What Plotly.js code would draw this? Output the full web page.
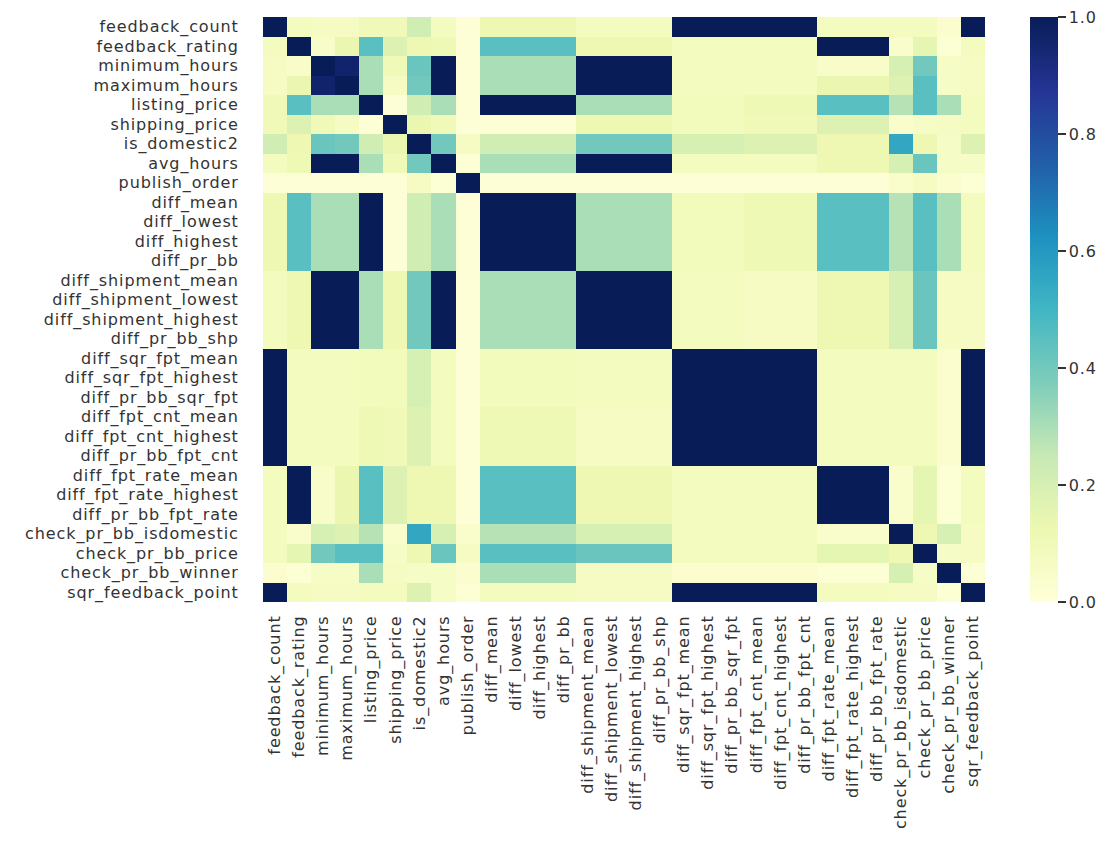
<!DOCTYPE html>
<html>
<head>
<meta charset="utf-8">
<script src="https://cdn.plot.ly/plotly-3.0.1.min.js"></script>
<style>
  html, body { margin: 0; padding: 0; background: #ffffff; }
  #chart { width: 1120px; height: 862px; }
  #chart .xtick text, #chart .ytick text, #chart .cbaxis text { letter-spacing: 0.9px; }
</style>
</head>
<body>
<div id="chart"></div>
<script>
// Feature names (same order on both axes)
const labels = [
  "feedback_count", "feedback_rating", "minimum_hours", "maximum_hours",
  "listing_price", "shipping_price", "is_domestic2", "avg_hours",
  "publish_order", "diff_mean", "diff_lowest", "diff_highest", "diff_pr_bb",
  "diff_shipment_mean", "diff_shipment_lowest", "diff_shipment_highest",
  "diff_pr_bb_shp", "diff_sqr_fpt_mean", "diff_sqr_fpt_highest",
  "diff_pr_bb_sqr_fpt", "diff_fpt_cnt_mean", "diff_fpt_cnt_highest",
  "diff_pr_bb_fpt_cnt", "diff_fpt_rate_mean", "diff_fpt_rate_highest",
  "diff_pr_bb_fpt_rate", "check_pr_bb_isdomestic", "check_pr_bb_price",
  "check_pr_bb_winner", "sqr_feedback_point"
];

// Correlation matrix (one row per feature)
const corr = [
  [1.00,0.08,0.07,0.07,0.10,0.10,0.22,0.08,0.01,0.12,0.12,0.12,0.12,0.08,0.08,0.08,0.08,1.00,1.00,1.00,1.00,1.00,1.00,0.08,0.08,0.08,0.08,0.08,0.03,1.00],
  [0.08,1.00,0.05,0.13,0.45,0.18,0.12,0.11,0.01,0.45,0.45,0.45,0.45,0.12,0.12,0.12,0.12,0.08,0.08,0.08,0.08,0.08,0.08,1.00,1.00,1.00,0.04,0.15,0.02,0.08],
  [0.07,0.05,1.00,0.96,0.30,0.10,0.42,1.00,0.01,0.30,0.30,0.30,0.30,1.00,1.00,1.00,1.00,0.08,0.08,0.08,0.08,0.08,0.08,0.05,0.05,0.05,0.20,0.40,0.06,0.07],
  [0.07,0.13,0.96,1.00,0.30,0.07,0.40,1.00,0.01,0.30,0.30,0.30,0.30,1.00,1.00,1.00,1.00,0.08,0.08,0.08,0.08,0.08,0.08,0.13,0.13,0.13,0.18,0.45,0.06,0.07],
  [0.10,0.45,0.30,0.30,1.00,0.01,0.22,0.30,0.01,1.00,1.00,1.00,1.00,0.30,0.30,0.30,0.30,0.09,0.09,0.09,0.11,0.11,0.11,0.45,0.45,0.45,0.28,0.45,0.30,0.08],
  [0.10,0.18,0.10,0.07,0.01,1.00,0.13,0.10,0.01,0.01,0.01,0.01,0.01,0.12,0.12,0.12,0.12,0.09,0.09,0.09,0.10,0.10,0.10,0.18,0.18,0.18,0.04,0.06,0.07,0.08],
  [0.22,0.12,0.42,0.40,0.22,0.13,1.00,0.40,0.07,0.22,0.22,0.22,0.22,0.40,0.40,0.40,0.40,0.20,0.20,0.20,0.18,0.18,0.18,0.12,0.12,0.12,0.55,0.12,0.06,0.18],
  [0.08,0.11,1.00,1.00,0.30,0.10,0.40,1.00,0.02,0.30,0.30,0.30,0.30,1.00,1.00,1.00,1.00,0.08,0.08,0.08,0.08,0.08,0.08,0.12,0.12,0.12,0.20,0.42,0.06,0.06],
  [0.01,0.01,0.01,0.01,0.01,0.01,0.07,0.02,1.00,0.01,0.01,0.01,0.01,0.01,0.01,0.01,0.01,0.01,0.01,0.01,0.01,0.01,0.01,0.01,0.01,0.01,0.04,0.07,0.03,0.02],
  [0.12,0.45,0.30,0.30,1.00,0.01,0.22,0.30,0.01,1.00,1.00,1.00,1.00,0.30,0.30,0.30,0.30,0.09,0.09,0.09,0.11,0.11,0.11,0.45,0.45,0.45,0.28,0.45,0.30,0.08],
  [0.12,0.45,0.30,0.30,1.00,0.01,0.22,0.30,0.01,1.00,1.00,1.00,1.00,0.30,0.30,0.30,0.30,0.09,0.09,0.09,0.11,0.11,0.11,0.45,0.45,0.45,0.28,0.45,0.30,0.08],
  [0.12,0.45,0.30,0.30,1.00,0.01,0.22,0.30,0.01,1.00,1.00,1.00,1.00,0.30,0.30,0.30,0.30,0.09,0.09,0.09,0.11,0.11,0.11,0.45,0.45,0.45,0.28,0.45,0.30,0.08],
  [0.12,0.45,0.30,0.30,1.00,0.01,0.22,0.30,0.01,1.00,1.00,1.00,1.00,0.30,0.30,0.30,0.30,0.09,0.09,0.09,0.11,0.11,0.11,0.45,0.45,0.45,0.28,0.45,0.30,0.08],
  [0.08,0.12,1.00,1.00,0.30,0.12,0.40,1.00,0.01,0.30,0.30,0.30,0.30,1.00,1.00,1.00,1.00,0.08,0.08,0.08,0.07,0.07,0.07,0.12,0.12,0.12,0.20,0.42,0.07,0.07],
  [0.08,0.12,1.00,1.00,0.30,0.12,0.40,1.00,0.01,0.30,0.30,0.30,0.30,1.00,1.00,1.00,1.00,0.08,0.08,0.08,0.07,0.07,0.07,0.12,0.12,0.12,0.20,0.42,0.07,0.07],
  [0.08,0.12,1.00,1.00,0.30,0.12,0.40,1.00,0.01,0.30,0.30,0.30,0.30,1.00,1.00,1.00,1.00,0.08,0.08,0.08,0.07,0.07,0.07,0.12,0.12,0.12,0.20,0.42,0.07,0.07],
  [0.08,0.12,1.00,1.00,0.30,0.12,0.40,1.00,0.01,0.30,0.30,0.30,0.30,1.00,1.00,1.00,1.00,0.08,0.08,0.08,0.07,0.07,0.07,0.12,0.12,0.12,0.20,0.42,0.07,0.07],
  [1.00,0.08,0.08,0.08,0.09,0.09,0.20,0.08,0.01,0.09,0.09,0.09,0.09,0.08,0.08,0.08,0.08,1.00,1.00,1.00,1.00,1.00,1.00,0.08,0.08,0.08,0.08,0.08,0.03,1.00],
  [1.00,0.08,0.08,0.08,0.09,0.09,0.20,0.08,0.01,0.09,0.09,0.09,0.09,0.08,0.08,0.08,0.08,1.00,1.00,1.00,1.00,1.00,1.00,0.08,0.08,0.08,0.08,0.08,0.03,1.00],
  [1.00,0.08,0.08,0.08,0.09,0.09,0.20,0.08,0.01,0.09,0.09,0.09,0.09,0.08,0.08,0.08,0.08,1.00,1.00,1.00,1.00,1.00,1.00,0.08,0.08,0.08,0.08,0.08,0.03,1.00],
  [1.00,0.08,0.08,0.08,0.11,0.10,0.18,0.08,0.01,0.11,0.11,0.11,0.11,0.07,0.07,0.07,0.07,1.00,1.00,1.00,1.00,1.00,1.00,0.08,0.08,0.08,0.08,0.08,0.03,1.00],
  [1.00,0.08,0.08,0.08,0.11,0.10,0.18,0.08,0.01,0.11,0.11,0.11,0.11,0.07,0.07,0.07,0.07,1.00,1.00,1.00,1.00,1.00,1.00,0.08,0.08,0.08,0.08,0.08,0.03,1.00],
  [1.00,0.08,0.08,0.08,0.11,0.10,0.18,0.08,0.01,0.11,0.11,0.11,0.11,0.07,0.07,0.07,0.07,1.00,1.00,1.00,1.00,1.00,1.00,0.08,0.08,0.08,0.08,0.08,0.03,1.00],
  [0.08,1.00,0.05,0.13,0.45,0.18,0.12,0.12,0.01,0.45,0.45,0.45,0.45,0.12,0.12,0.12,0.12,0.08,0.08,0.08,0.08,0.08,0.08,1.00,1.00,1.00,0.04,0.15,0.02,0.08],
  [0.08,1.00,0.05,0.13,0.45,0.18,0.12,0.12,0.01,0.45,0.45,0.45,0.45,0.12,0.12,0.12,0.12,0.08,0.08,0.08,0.08,0.08,0.08,1.00,1.00,1.00,0.04,0.15,0.02,0.08],
  [0.08,1.00,0.05,0.13,0.45,0.18,0.12,0.12,0.01,0.45,0.45,0.45,0.45,0.12,0.12,0.12,0.12,0.08,0.08,0.08,0.08,0.08,0.08,1.00,1.00,1.00,0.04,0.15,0.02,0.08],
  [0.08,0.04,0.20,0.18,0.28,0.04,0.55,0.20,0.04,0.28,0.28,0.28,0.28,0.20,0.20,0.20,0.20,0.08,0.08,0.08,0.08,0.08,0.08,0.04,0.04,0.04,1.00,0.12,0.20,0.07],
  [0.08,0.15,0.40,0.45,0.45,0.06,0.12,0.42,0.07,0.45,0.45,0.45,0.45,0.42,0.42,0.42,0.42,0.08,0.08,0.08,0.08,0.08,0.08,0.15,0.15,0.15,0.12,1.00,0.06,0.07],
  [0.03,0.02,0.06,0.06,0.30,0.07,0.06,0.06,0.03,0.30,0.30,0.30,0.30,0.07,0.07,0.07,0.07,0.03,0.03,0.03,0.03,0.03,0.03,0.02,0.02,0.02,0.20,0.06,1.00,0.02],
  [1.00,0.08,0.07,0.07,0.08,0.08,0.18,0.06,0.02,0.08,0.08,0.08,0.08,0.07,0.07,0.07,0.07,1.00,1.00,1.00,1.00,1.00,1.00,0.08,0.08,0.08,0.07,0.07,0.02,1.00]
];

// Colour bar ticks
const cbTicks = [0.0, 0.2, 0.4, 0.6, 0.8, 1.0];

// Yellow-green-blue sequential scale
const ylgnbu = [
  [0.000, "#ffffd9"], [0.125, "#edf8b1"], [0.250, "#c7e9b4"],
  [0.375, "#7fcdbb"], [0.500, "#41b6c4"], [0.625, "#1d91c0"],
  [0.750, "#225ea8"], [0.875, "#253494"], [1.000, "#081d58"]
];

const tickFont = { family: "DejaVu Sans, Liberation Sans, Arial, sans-serif", size: 16, color: "#333333" };

const trace = {
  type: "heatmap",
  z: corr,
  x: labels,
  y: labels,
  zmin: 0,
  zmax: 1,
  colorscale: ylgnbu,
  hoverinfo: "skip",
  colorbar: {
    x: 1.0623,
    xanchor: "left",
    xref: "paper",
    y: 0.5,
    yanchor: "middle",
    len: 1,
    lenmode: "fraction",
    thickness: 28,
    thicknessmode: "pixels",
    outlinewidth: 0,
    ticks: "outside",
    ticklen: 8,
    tickwidth: 1.5,
    tickcolor: "#333333",
    tickvals: cbTicks,
    ticktext: cbTicks.map(v => v.toFixed(1)),
    tickfont: tickFont,
    xpad: 0,
    ypad: 0
  }
};

const layout = {
  width: 1120,
  height: 862,
  margin: { l: 263, r: 135, t: 17, b: 260 },
  paper_bgcolor: "#ffffff",
  plot_bgcolor: "#ffffff",
  showlegend: false,
  xaxis: {
    type: "category",
    categoryorder: "array",
    categoryarray: labels,
    tickmode: "array",
    tickvals: labels,
    ticktext: labels,
    tickangle: -90,
    ticks: "outside",
    ticklen: 6,
    tickcolor: "rgba(0,0,0,0)",
    tickfont: tickFont,
    showgrid: false,
    zeroline: false,
    showline: false,
    automargin: false
  },
  yaxis: {
    type: "category",
    categoryorder: "array",
    categoryarray: labels,
    tickmode: "array",
    tickvals: labels,
    ticktext: labels,
    autorange: "reversed",
    ticks: "outside",
    ticklen: 20,
    tickcolor: "rgba(0,0,0,0)",
    tickfont: tickFont,
    showgrid: false,
    zeroline: false,
    showline: false,
    automargin: false
  }
};

Plotly.newPlot("chart", [trace], layout, { displayModeBar: false, staticPlot: true });
</script>
</body>
</html>
